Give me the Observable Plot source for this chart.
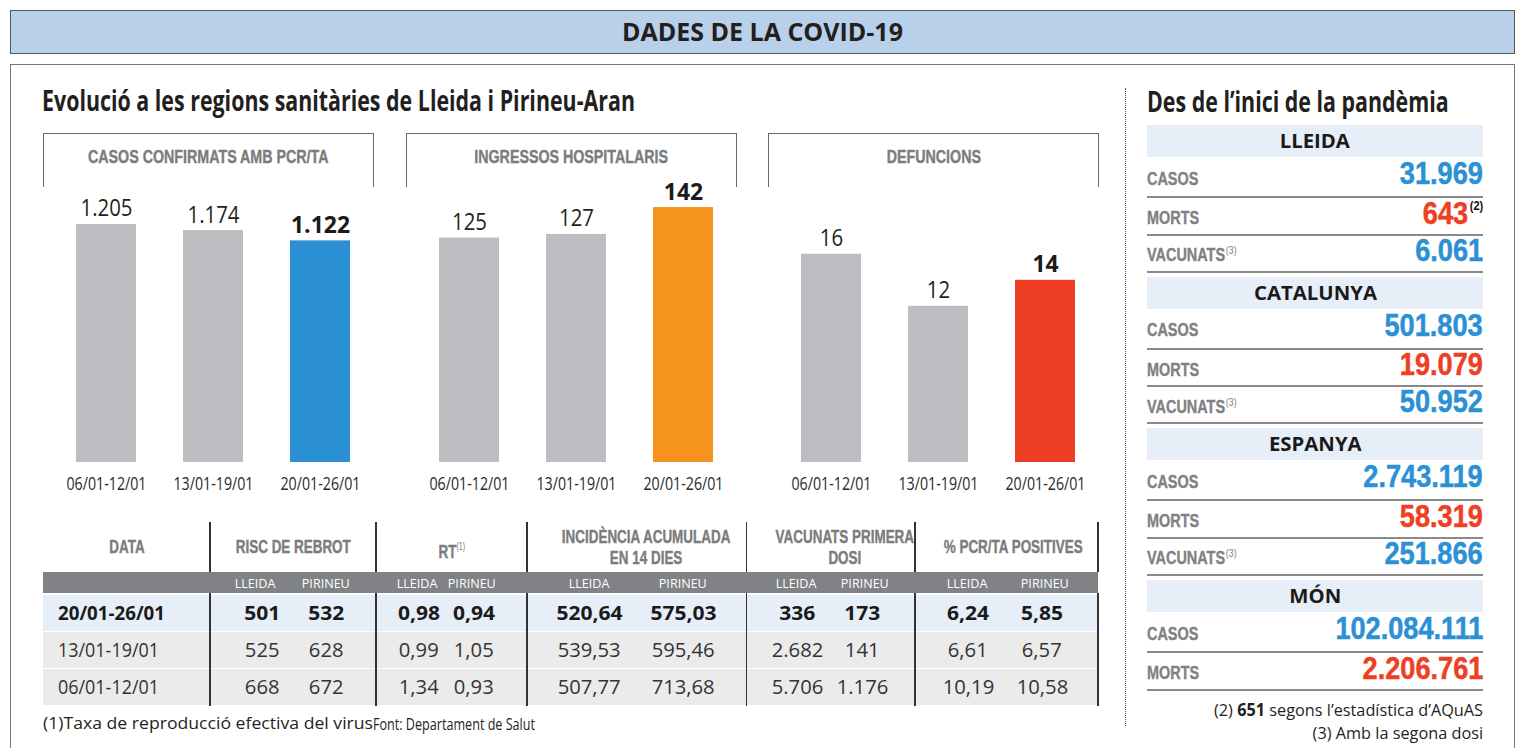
<!DOCTYPE html>
<html><head><meta charset="utf-8">
<script src="https://cdn.jsdelivr.net/npm/d3@7"></script>
<script src="https://cdn.jsdelivr.net/npm/@observablehq/plot@0.6"></script>
<style>
body{margin:0;width:1530px;height:748px;position:relative;background:#fff;overflow:hidden;font-family:'Open Sans',sans-serif;}
.abs{position:absolute;box-sizing:border-box;}
.t{display:inline-block;white-space:nowrap;}
</style></head>
<body>
<script>
// ---- data ----
const weeks = ["06/01-12/01", "13/01-19/01", "20/01-26/01"];
const casosConfirmats = [1205, 1174, 1122];
const ingressosHospitalaris = [125, 127, 142];
const defuncions = [16, 12, 14];

const tableDates = ["20/01-26/01", "13/01-19/01", "06/01-12/01"];
const riscLleida = [501, 525, 668];
const riscPirineu = [532, 628, 672];
const rtLleida = [0.98, 0.99, 1.34];
const rtPirineu = [0.94, 1.05, 0.93];
const iaLleida = [520.64, 539.53, 507.77];
const iaPirineu = [575.03, 595.46, 713.68];
const vacLleida = [336, 2682, 5706];
const vacPirineu = [173, 141, 1176];
const pcrLleida = [6.24, 6.61, 10.19];
const pcrPirineu = [5.85, 6.57, 10.58];

const regions = ["LLEIDA", "CATALUNYA", "ESPANYA", "MÓN"];
const casosTotals = [31969, 501803, 2743119, 102084111];
const mortsTotals = [643, 19079, 58319, 2206761];
const vacunatsTotals = [6061, 50952, 251866, null];

// ---- helpers ----
const loc = d3.formatLocale({decimal: ",", thousands: ".", grouping: [3], currency: ["", "€"]});
const fInt = loc.format(",d");
const f2 = loc.format(",.2f");
const FAM = "'Open Sans', sans-serif";
const LIB = "'Liberation Sans', Arial, sans-serif";
const BLUE = "#2b90d4", ORANGE = "#f6931f", RED = "#ee3f24", GRAY = "#bcbdc1";

const ctx = document.createElement("canvas").getContext("2d");
function measure(text, weight, size, family) { ctx.font = `${weight} ${size}px ${family || FAM}`; return ctx.measureText(text).width; }
// a style whose horizontal squeeze is calibrated on one sample text of the reference
function cal(weight, size, sample, target, color, family, stroke) {
  return {weight, size, color, stroke: stroke || 0, family: family || FAM, k: target / measure(sample, weight, size, family)};
}

const S = {
  banner: cal("bold", 25, "DADES DE LA COVID-19", 281, "#231f20"),
  head:   cal("bold", 28, "Evolució a les regions sanitàries de Lleida i Pirineu-Aran", 593, "#231f20"),
  phdr:   cal("bold", 19, "CASOS CONFIRMATS AMB PCR/TA", 241, "#7b7c7e", LIB, 0.4),
  thdr:   cal("bold", 19, "RISC DE REBROT", 115, "#7b7c7e", LIB, 0.4),
  tsub:   cal("normal", 13, "PIRINEU", 48, "#ffffff"),
  tvalB:  cal("bold", 20, "575,03", 66, "#1a1a1a"),
  tval:   cal("normal", 20, "595,46", 63, "#333"),
  tdateB: cal("bold", 20, "20/01-26/01", 107, "#1a1a1a"),
  tdate:  cal("normal", 20, "13/01-19/01", 101, "#333"),
  band:   cal("bold", 19, "CATALUNYA", 123, "#1a1a1a"),
  rlab:   cal("bold", 18, "VACUNATS", 78, "#808184", LIB, 0.35),
  rval:   cal("bold", 32, "102.084.111", 148, BLUE, LIB, 0.5),
  foot1:  cal("normal", 17, "(1)Taxa de reproducció efectiva del virus", 330, "#231f20"),
  foot2:  cal("normal", 16, "Font: Departament de Salut", 162, "#231f20"),
  rfoot:  cal("normal", 17, "(2) 651 segons l’estadística d’AQuAS", 269, "#231f20"),
  barval: cal("normal", 23.5, "1.205", 52),
  barvalB: cal("bold", 23.5, "1.122", 59),
  xtick:  cal("normal", 18, "06/01-12/01", 80)
};

function span(html, st, origin, extra) {
  const stroke = st.stroke ? `-webkit-text-stroke:${st.stroke}px ${st.color};` : "";
  return `<span class="t" style="font-family:${st.family};font-weight:${st.weight};font-size:${st.size}px;color:${st.color};${stroke}transform:scaleX(${st.k});transform-origin:${origin || "center"};${extra || ""}">${html}</span>`;
}
function box(css, inner) {
  const d = document.createElement("div");
  d.className = "abs";
  d.style.cssText = css;
  d.innerHTML = inner || "";
  document.body.appendChild(d);
  return d;
}

// ---- frame ----
box("left:10px;top:10px;width:1505px;height:44px;background:#b9d0ea;border:1.5px solid #555;text-align:center;line-height:41px;", span("DADES DE LA COVID-19", S.banner));
box("left:10px;top:64px;width:1505px;height:720px;border:1.5px solid #777;");
box("left:1125px;top:88px;width:0;height:638px;border-left:1.2px dotted #555;");
box("left:42px;top:80px;line-height:40px;", span("Evolució a les regions sanitàries de Lleida i Pirineu-Aran", S.head, "left"));
box("left:1147px;top:81px;line-height:40px;", span("Des de l’inici de la pandèmia", S.head, "left"));

// ---- bar panels ----
const panels = [
  {title: "CASOS CONFIRMATS AMB PCR/TA", values: casosConfirmats, color: BLUE, max: 1377, left: 43},
  {title: "INGRESSOS HOSPITALARIS", values: ingressosHospitalaris, color: ORANGE, max: 151.5, left: 406},
  {title: "DEFUNCIONS", values: defuncions, color: RED, max: 20.9, left: 768}
];
for (const p of panels) {
  box(`left:${p.left}px;top:133px;width:331px;height:54px;border:1.5px solid #666;border-bottom:none;text-align:center;line-height:46px;`, span(p.title, S.phdr));
  const data = weeks.map((w, i) => ({week: w, value: p.values[i], last: i === weeks.length - 1}));
  const prev = data.filter(d => !d.last), last = data.filter(d => d.last);
  const svg = Plot.plot({
    width: 331, height: 360, marginTop: 50, marginBottom: 38, marginLeft: 0, marginRight: 0,
    style: {background: "transparent", fontFamily: FAM, fontSize: "18px", color: "#2a2a2a", overflow: "visible"},
    x: {domain: weeks, range: [32, 309], paddingInner: 0.435, paddingOuter: 0, tickSize: 0, tickPadding: 15, label: null},
    y: {domain: [0, p.max], axis: null},
    marks: [
      Plot.barY(prev, {x: "week", y: "value", fill: GRAY}),
      Plot.barY(last, {x: "week", y: "value", fill: p.color}),
      Plot.text(prev, {x: "week", y: "value", text: d => fInt(d.value), lineAnchor: "bottom", dy: -8, fontSize: 23.5, fill: "#231f20"}),
      Plot.text(last, {x: "week", y: "value", text: d => fInt(d.value), lineAnchor: "bottom", dy: -8, fontSize: 23.5, fontWeight: "bold", fill: "#1a1a1a"})
    ]
  });
  const holder = box(`left:${p.left}px;top:140px;width:331px;height:360px;`);
  holder.appendChild(svg);
  // condense the svg texts like the reference's narrow face
  svg.querySelectorAll("text").forEach(t => {
    const cs = getComputedStyle(t);
    const size = parseFloat(cs.fontSize);
    const bold = (cs.fontWeight === "bold" || +cs.fontWeight >= 600);
    const k = size > 20 ? (bold ? S.barvalB.k : S.barval.k) : S.xtick.k;
    const len = t.getComputedTextLength();
    if (len > 0) { t.setAttribute("textLength", (len * k).toFixed(1)); t.setAttribute("lengthAdjust", "spacingAndGlyphs"); }
  });
}

// ---- bottom table ----
const tL = 43, tR = 1098;
const groups = [
  {html: "DATA", l: 43, r: 210},
  {html: "RISC DE REBROT", l: 210, r: 376},
  {html: "RT<sup style='font-size:10px;font-weight:normal;vertical-align:8px;-webkit-text-stroke:0'>(1)</sup>", l: 376, r: 527},
  {html: "INCIDÈNCIA ACUMULADA<br>EN 14 DIES", l: 527, r: 746.5},
  {html: "VACUNATS PRIMERA<br>DOSI", l: 746.5, r: 915},
  {html: "% PCR/TA POSITIVES", l: 915, r: 1098}
];
for (const g of groups) {
  const two = g.html.includes("<br>");
  box(`left:${g.l}px;top:${two ? 525.5 : 536}px;width:${g.r - g.l}px;text-align:center;line-height:21.5px;`, span(g.html, S.thdr, "center", "text-align:center;"));
}
box(`left:${tL}px;top:572px;width:${tR - tL}px;height:20.5px;background:#808285;`);
const subX = [[255, 326], [417, 472], [589, 683], [796, 865], [967, 1045]];
const valX = [[262, 326.5], [419, 474], [589, 683], [797, 862], [968, 1042]];
for (const [a, b] of subX) {
  box(`left:${a - 40}px;top:572px;width:80px;text-align:center;line-height:20.5px;`, span("LLEIDA", S.tsub));
  box(`left:${b - 40}px;top:572px;width:80px;text-align:center;line-height:20.5px;`, span("PIRINEU", S.tsub));
}
const rowTops = [595, 632, 669];
const cols = [
  [riscLleida, riscPirineu, fInt],
  [rtLleida, rtPirineu, f2],
  [iaLleida, iaPirineu, f2],
  [vacLleida, vacPirineu, fInt],
  [pcrLleida, pcrPirineu, f2]
];
tableDates.forEach((d, i) => {
  const st = i === 0 ? S.tvalB : S.tval;
  const top = rowTops[i];
  box(`left:${tL}px;top:${top}px;width:${tR - tL}px;height:35.5px;background:${i === 0 ? "#e6eef8" : "#ebebec"};`);
  box(`left:58px;top:${top}px;line-height:35.5px;`, span(d, i === 0 ? S.tdateB : S.tdate, "left"));
  cols.forEach(([A, B, f], j) => {
    box(`left:${valX[j][0] - 50}px;top:${top}px;width:100px;text-align:center;line-height:35.5px;`, span(f(A[i]), st));
    box(`left:${valX[j][1] - 50}px;top:${top}px;width:100px;text-align:center;line-height:35.5px;`, span(f(B[i]), st));
  });
});
for (const x of [210, 376, 527, 746.5, 915, 1098]) {
  box(`left:${x - 0.75}px;top:522px;width:1.5px;height:50px;background:#333;`);
  box(`left:${x - 0.75}px;top:592.5px;width:1.5px;height:113px;background:#333;`);
}
const f1 = "(1)Taxa de reproducció efectiva del virus";
const w1 = measure(f1, S.foot1.weight, S.foot1.size) * S.foot1.k;
box(`left:43px;top:710px;line-height:26px;`, span(f1, S.foot1, "left"));
box(`left:${43 + w1}px;top:710.5px;line-height:26px;`, span("Font: Departament de Salut", S.foot2, "left"));

// ---- right panel ----
const RL = 1147, RW = 336;
regions.forEach((r, i) => {
  const T = 125 + i * 151.7;
  box(`left:${RL}px;top:${T}px;width:${RW}px;height:32px;background:#e6eef8;text-align:center;line-height:32px;`, span(r, S.band));
  const rows = [
    {lab: "CASOS", v: casosTotals[i], c: BLUE},
    {lab: "MORTS", v: mortsTotals[i], c: RED, sup: i === 0 ? "(2)" : null},
    {lab: "VACUNATS", v: vacunatsTotals[i], c: BLUE, sup3: true}
  ].filter(d => d.v != null);
  const lineBottoms = [T + 73, T + 110.5, T + 147.5];
  let prevB = T + 32;
  rows.forEach((row, j) => {
    const lb = lineBottoms[j];
    const lab = row.lab + (row.sup3 ? `<sup style="font-size:11px;font-weight:normal;vertical-align:7px;margin-left:1px;-webkit-text-stroke:0">(3)</sup>` : "");
    const val = fInt(row.v) + (row.sup ? `<sup style="font-size:13px;color:#111;-webkit-text-stroke:0;vertical-align:14px;margin-left:2px">${row.sup}</sup>` : "");
    box(`left:${RL}px;top:${prevB}px;width:${RW}px;height:${lb - prevB}px;border-bottom:2px solid #8a8a8a;display:flex;justify-content:space-between;align-items:flex-end;padding-bottom:${j === 0 ? 6 : 4}px;`,
      span(lab, S.rlab, "left bottom", "line-height:18px;padding-bottom:2.5px;") +
      span(val, Object.assign({}, S.rval, {color: row.c}), "right bottom", "line-height:32px;padding-bottom:1px;"));
    prevB = lb;
  });
});
box(`left:${RL}px;top:697px;width:${RW}px;text-align:right;line-height:26px;`, span("(2) <b>651</b> segons l’estadística d’AQuAS", S.rfoot, "right"));
box(`left:${RL}px;top:720px;width:${RW}px;text-align:right;line-height:26px;`, span("(3) Amb la segona dosi", S.rfoot, "right"));
</script>
</body></html>
